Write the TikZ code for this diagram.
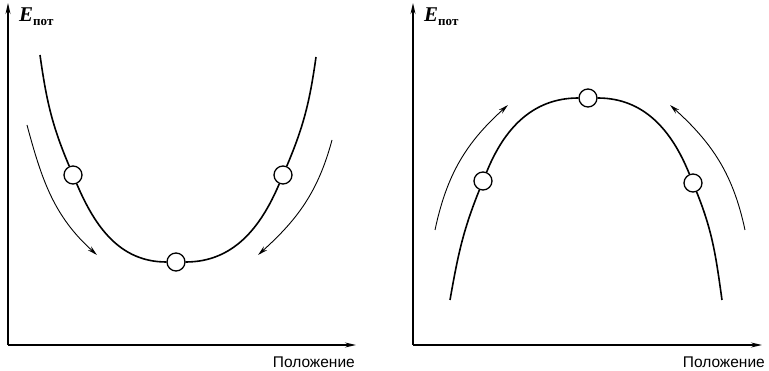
\documentclass[tikz,border=0pt]{standalone}
\usepackage{fontspec}
\setmainfont{Liberation Serif}
\newfontfamily\axisfont{Liberation Sans}
\usetikzlibrary{arrows.meta, positioning, calc}
\tikzset{
  axis/.style={line width=1.3pt, -{Stealth[length=11pt, width=5pt]}},
  curve/.style={line width=1.6pt},
  ball/.style={circle, draw, fill=white, line width=1.3pt, minimum size=18pt, inner sep=0pt},
  motion/.style={line width=0.9pt, -{Stealth[length=10pt, width=5pt]}},
  elabel/.style={anchor=west, inner sep=0pt},
  poslabel/.style={anchor=east, inner sep=0pt, font=\axisfont\fontsize{15.5}{16}\selectfont}
}
\newcommand{\epot}{{\fontsize{21}{21}\selectfont\bfseries\itshape E}\raisebox{-4pt}{\fontsize{13}{13}\selectfont\bfseries пот}}

\begin{document}
\begin{tikzpicture}[x=1pt, y=-1pt]
\useasboundingbox (0,0) rectangle (769,371);

% --- left panel: stable equilibrium ---
\coordinate (lO) at (8,345);
\coordinate (lY) at (8,3);
\coordinate (lX) at (356,345);
\draw [axis] (lO) -- (lY);
\draw [axis] (lO) -- (lX);
\node (lE)   [elabel]   at (19,17)  {\epot};
\node (lPos) [poslabel] at (355,362) {Положение};

\coordinate (lTopL) at (40,55);
\coordinate (lTopR) at (316,57);
\node (lBallL) [ball] at (73,175)  {};
\node (lBallB) [ball] at (176,262) {};
\node (lBallR) [ball] at (283,175) {};
\draw [curve] (lTopL) to[out=-82, in=113] (lBallL)
              (lBallL) to[out=-67, in=180] (lBallB)
              (lBallB) to[out=0, in=-113] (lBallR)
              (lBallR) to[out=67, in=-98] (lTopR);

\coordinate (lArLs) at (27,125);
\coordinate (lArLe) at (97,255);
\coordinate (lArRs) at (332,140);
\coordinate (lArRe) at (258,255);
\draw [motion] (lArLs) to[out=-75, in=138] (lArLe);
\draw [motion] (lArRs) to[out=-105, in=42] (lArRe);

% --- right panel: unstable equilibrium ---
\coordinate (rO) at (413,345);
\coordinate (rY) at (413,3);
\coordinate (rX) at (762,345);
\draw [axis] (rO) -- (rY);
\draw [axis] (rO) -- (rX);
\node (rE)   [elabel]   at (424,17)  {\epot};
\node (rPos) [poslabel] at (765,362) {Положение};

\coordinate (rBotL) at (450,300);
\coordinate (rBotR) at (722,300);
\node (rBallL) [ball] at (483,181) {};
\node (rBallT) [ball] at (588,98)  {};
\node (rBallR) [ball] at (693,183) {};
\draw [curve] (rBotL) to[out=80, in=-112] (rBallL)
              (rBallL) to[out=68, in=180] (rBallT)
              (rBallT) to[out=0, in=112] (rBallR)
              (rBallR) to[out=-68, in=98] (rBotR);

\coordinate (rArLs) at (435,230);
\coordinate (rArLe) at (508,105);
\coordinate (rArRs) at (745,230);
\coordinate (rArRe) at (670,105);
\draw [motion] (rArLs) to[out=78, in=-138] (rArLe);
\draw [motion] (rArRs) to[out=102, in=-42] (rArRe);
\end{tikzpicture}
\end{document}
